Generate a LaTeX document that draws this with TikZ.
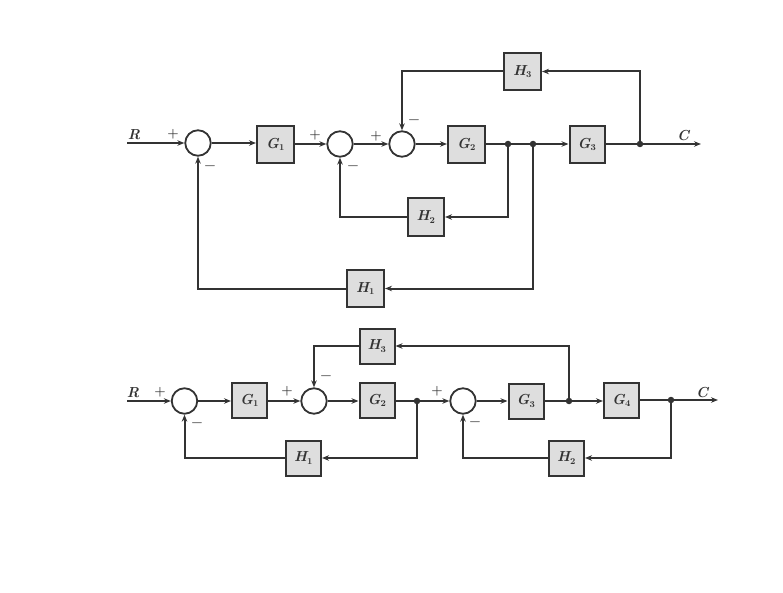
\documentclass[tikz,border=0pt]{standalone}
\usetikzlibrary{arrows.meta}
\definecolor{ink}{HTML}{333333}
\definecolor{boxfill}{HTML}{DEDEDE}
\tikzset{
  x=1pt,y=-1pt,
  every node/.style={text=ink,font=\bfseries\itshape\fontsize{14.5pt}{15pt}\selectfont},
  blockbox/.style={draw=ink,fill=boxfill,line width=2pt,minimum width=35pt,minimum height=35pt,inner sep=0pt},
  sumc/.style={circle,draw=ink,fill=white,line width=1.8pt,minimum size=25.5pt,inner sep=0pt},
  dotj/.style={circle,fill=ink,minimum size=6.5pt,inner sep=0pt},
  conn/.style={draw=ink,line width=2pt,-{Stealth[length=7pt,width=5.5pt]}},
  plainc/.style={draw=ink,line width=2pt},
  lab/.style={inner sep=0pt,font=\bfseries\fontsize{13pt}{13pt}\selectfont},
  sig/.style={inner sep=0pt,font=\bfseries\itshape\fontsize{14.5pt}{15pt}\selectfont},
}
\newcommand{\blk}[2]{#1\textsubscript{\upshape\fontsize{9pt}{10pt}\selectfont #2}}
\begin{document}
\begin{tikzpicture}
\useasboundingbox (0,0) rectangle (783,593);
% Top diagram
\coordinate (tin) at (127,143);
\coordinate (tout) at (701,144);
\node[sumc] (ta) at (198,143) {};
\node[blockbox,minimum width=37pt,minimum height=37pt] (tg1) at (275.5,144.5) {\blk{G}{1}};
\node[sumc] (tb) at (340,144) {};
\node[sumc] (tc) at (402,144) {};
\node[blockbox,minimum width=37pt,minimum height=37pt] (tg2) at (466.5,144.5) {\blk{G}{2}};
\node[dotj] (tj1) at (508,144) {};
\node[dotj] (tj2) at (533,144) {};
\node[blockbox,minimum width=35pt,minimum height=37pt] (tg3) at (587,144.5) {\blk{G}{3}};
\node[dotj] (tj3) at (640,144) {};
\node[blockbox,minimum width=37pt,minimum height=37pt] (th3) at (522.5,71.5) {\blk{H}{3}};
\node[blockbox,minimum width=36pt,minimum height=38pt] (th2) at (426,217) {\blk{H}{2}};
\node[blockbox,minimum width=37pt,minimum height=37pt] (th1) at (365.5,288.5) {\blk{H}{1}};
\draw[conn] (tin) -- (ta.west);
\draw[conn] (ta.east) -- (ta.east -| tg1.west);
\draw[conn] (tg1.east |- tb.west) -- (tb.west);
\draw[conn] (tb.east) -- (tc.west);
\draw[conn] (tc.east) -- (tc.east -| tg2.west);
\draw[plainc] (tg2.east |- tj1) -- (tj1) -- (tj2);
\draw[conn] (tj2) -- (tj2 -| tg3.west);
\draw[plainc] (tg3.east |- tj3) -- (tj3);
\draw[conn] (tj3) -- (tout);
\draw[conn] (tj3) |- (th3.east);
\draw[conn] (th3.west) -| (tc.north);
\draw[conn] (tj1) |- (th2.east);
\draw[conn] (th2.west) -| (tb.south);
\draw[conn] (tj2) |- (th1.east);
\draw[conn] (th1.west) -| (ta.south);
\node[sig] (tR) at (134,134.5) {R};
\node[sig] (tC) at (683,136) {C};
\node[lab] (tp1) at (173,134) {+};
\node[lab] (tm1) at (210,168) {\textminus};
\node[lab] (tp2) at (315,135) {+};
\node[lab] (tm2) at (353,168) {\textminus};
\node[lab] (tp3) at (376,136) {+};
\node[lab] (tm3) at (414,122) {\textminus};
% Bottom diagram
\coordinate (bin) at (127,401);
\coordinate (bout) at (718,400);
\node[sumc] (ba) at (184.5,401) {};
\node[blockbox] (bg1) at (249.5,400.5) {\blk{G}{1}};
\node[sumc] (bb) at (314,401) {};
\node[blockbox] (bg2) at (377,400.5) {\blk{G}{2}};
\node[dotj] (bj1) at (417,401) {};
\node[sumc] (bc) at (463,401) {};
\node[blockbox] (bg3) at (526,401) {\blk{G}{3}};
\node[dotj] (bj2) at (569,401) {};
\node[blockbox] (bg4) at (621.5,400.5) {\blk{G}{4}};
\node[dotj] (bj3) at (671,400) {};
\node[blockbox] (bh3) at (377,346) {\blk{H}{3}};
\node[blockbox] (bh1) at (303.5,458) {\blk{H}{1}};
\node[blockbox] (bh2) at (566.5,458) {\blk{H}{2}};
\draw[conn] (bin) -- (ba.west);
\draw[conn] (ba.east) -- (ba.east -| bg1.west);
\draw[conn] (bg1.east |- bb.west) -- (bb.west);
\draw[conn] (bb.east) -- (bb.east -| bg2.west);
\draw[plainc] (bg2.east |- bj1) -- (bj1);
\draw[conn] (bj1) -- (bc.west);
\draw[conn] (bc.east) -- (bc.east -| bg3.west);
\draw[plainc] (bg3.east |- bj2) -- (bj2);
\draw[conn] (bj2) -- (bj2 -| bg4.west);
\draw[plainc] (bg4.east |- bj3) -- (bj3);
\draw[conn] (bj3) -- (bout);
\draw[conn] (bj2) |- (bh3.east);
\draw[conn] (bh3.west) -| (bb.north);
\draw[conn] (bj1) |- (bh1.east);
\draw[conn] (bh1.west) -| (ba.south);
\draw[conn] (bj3) |- (bh2.east);
\draw[conn] (bh2.west) -| (bc.south);
\node[sig] (bR) at (133,392.5) {R};
\node[sig] (bC) at (702,392.5) {C};
\node[lab] (bp1) at (160,392.5) {+};
\node[lab] (bm1) at (197,425) {\textminus};
\node[lab] (bp2) at (287,391.5) {+};
\node[lab] (bm2) at (326,378) {\textminus};
\node[lab] (bp3) at (437,391) {+};
\node[lab] (bm3) at (475,424) {\textminus};
\end{tikzpicture}
\end{document}
